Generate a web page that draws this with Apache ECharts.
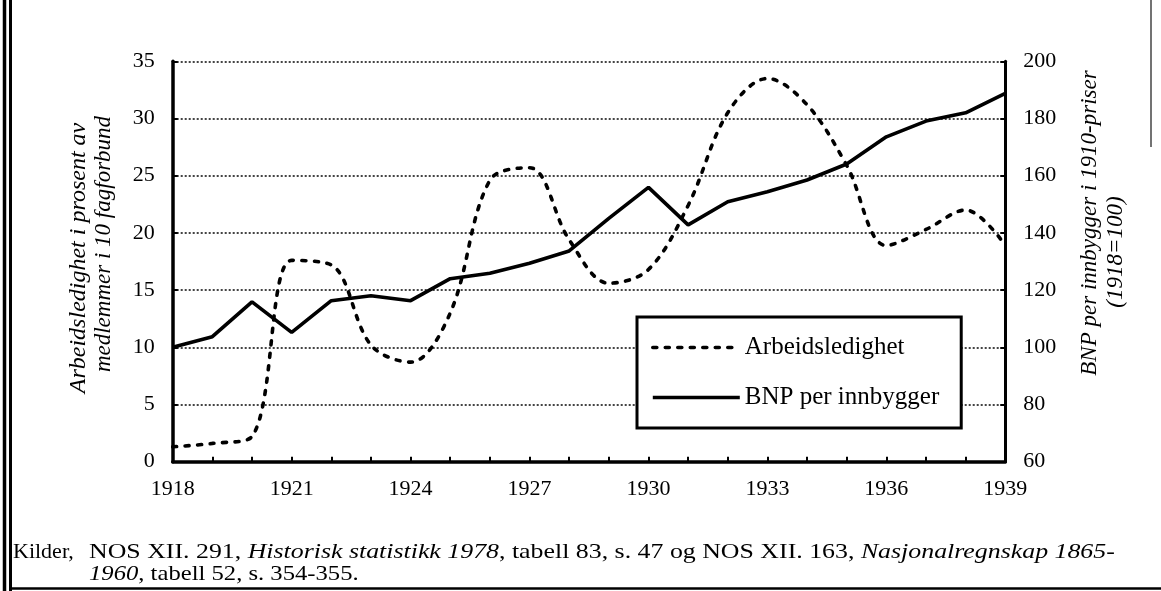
<!DOCTYPE html>
<html>
<head>
<meta charset="utf-8">
<script src="https://cdn.jsdelivr.net/npm/echarts@6/dist/echarts.min.js"></script>
<style>
html,body{margin:0;padding:0;background:#fff;}
#c{width:1161px;height:591px;}
</style>
</head>
<body>
<div id="c"></div>
<script>
// ---- data ----
var years = ['1918','1919','1920','1921','1922','1923','1924','1925','1926','1927','1928','1929','1930','1931','1932','1933','1934','1935','1936','1937','1938','1939'];
var arbeidsledighet = [1.3, 1.6, 2.2, 17.6, 17.2, 10.2, 8.7, 13.0, 24.6, 25.7, 19.4, 15.6, 16.8, 22.4, 30.5, 33.5, 31.2, 25.9, 18.9, 20.3, 22.0, 18.9];
var bnp = [100, 103.7, 115.9, 105.2, 116.3, 118.0, 116.3, 124.0, 125.9, 129.4, 133.7, 145.1, 155.9, 142.8, 150.9, 154.4, 158.5, 164.1, 173.6, 179.1, 182.0, 188.8];
var leftTicks = [0, 35, 5];    // min, max, interval
var rightTicks = [60, 200, 20];
var seriesNames = ['Arbeidsledighet', 'BNP per innbygger'];
var leftName = ['Arbeidsledighet i prosent av', 'medlemmer i 10 fagforbund'];
var rightName = ['BNP per innbygger i 1910-priser', '(1918=100)'];

var SERIF = '"Liberation Serif","Times New Roman",serif';
var chart = echarts.init(document.getElementById('c'), null, {renderer: 'canvas'});

var option = {
  backgroundColor: '#fff',
  animation: false,
  grid: {left: 172.7, right: 155.7, top: 61.3, bottom: 129.3, containLabel: false},
  legend: {
    data: seriesNames,
    orient: 'vertical',
    left: 637, top: 317,
    padding: [18, 22, 18, 14],
    itemGap: 25,
    itemWidth: 87, itemHeight: 14,
    borderColor: '#000', borderWidth: 3,
    backgroundColor: '#fff',
    itemStyle: {opacity: 0},
    lineStyle: {width: 3.6},
    textStyle: {fontFamily: SERIF, fontSize: 25, color: '#000'}
  },
  xAxis: {
    type: 'category', data: years, boundaryGap: false,
    axisLine: {lineStyle: {color: '#000', width: 3.5}},
    axisTick: {show: true, inside: true, length: 5, interval: 0, lineStyle: {color: '#000', width: 2}},
    axisLabel: {interval: 2, margin: 17, fontFamily: SERIF, fontSize: 22, color: '#000'},
    splitLine: {show: false}
  },
  yAxis: [{
    type: 'value', min: leftTicks[0], max: leftTicks[1], interval: leftTicks[2], position: 'left',
    axisLine: {show: true, lineStyle: {color: '#000', width: 3.5}},
    axisTick: {show: true, inside: true, length: 5, lineStyle: {color: '#000', width: 2}},
    axisLabel: {margin: 18, fontFamily: SERIF, fontSize: 22, color: '#000'},
    splitLine: {show: true, lineStyle: {color: '#444', width: 2, type: [2, 2]}}
  }, {
    type: 'value', min: rightTicks[0], max: rightTicks[1], interval: rightTicks[2], position: 'right',
    axisLine: {show: true, lineStyle: {color: '#000', width: 3}},
    axisTick: {show: true, inside: true, length: 5, lineStyle: {color: '#000', width: 2}},
    axisLabel: {margin: 18, fontFamily: SERIF, fontSize: 22, color: '#000'},
    splitLine: {show: false}
  }],
  series: [{
    name: seriesNames[0], type: 'line', yAxisIndex: 0, data: arbeidsledighet,
    symbol: 'none', smooth: 0.35,
    lineStyle: {color: '#000', width: 3.6, type: [4, 8.5], cap: 'round'},
    itemStyle: {color: '#000'}
  }, {
    name: seriesNames[1], type: 'line', yAxisIndex: 1, data: bnp,
    symbol: 'none', smooth: false,
    lineStyle: {color: '#000', width: 3.6, type: 'solid'},
    itemStyle: {color: '#000'}
  }],
  graphic: [
    // axis names
    {type: 'text', x: 79, y: 258, rotation: Math.PI / 2,
     style: {text: leftName[0], fontFamily: SERIF, fontStyle: 'italic', fontSize: 24, fill: '#000', align: 'center', verticalAlign: 'middle'}},
    {type: 'text', x: 104, y: 244, rotation: Math.PI / 2,
     style: {text: leftName[1], fontFamily: SERIF, fontStyle: 'italic', fontSize: 23, fill: '#000', align: 'center', verticalAlign: 'middle'}},
    {type: 'text', x: 1090, y: 223, rotation: Math.PI / 2,
     style: {text: rightName[0], fontFamily: SERIF, fontStyle: 'italic', fontSize: 23, fill: '#000', align: 'center', verticalAlign: 'middle'}},
    {type: 'text', x: 1116, y: 252, rotation: Math.PI / 2,
     style: {text: rightName[1], fontFamily: SERIF, fontStyle: 'italic', fontSize: 23, fill: '#000', align: 'center', verticalAlign: 'middle'}},
    // footer
    {type: 'text', x: 13, y: 552,
     style: {text: 'Kilder,', fontFamily: SERIF, fontSize: 22, fill: '#000', verticalAlign: 'middle'}},
    {type: 'text', x: 89, y: 552, scaleX: 1.175,
     style: {text: 'NOS XII. 291, {i|Historisk statistikk 1978}, tabell 83, s. 47 og NOS XII. 163, {i|Nasjonalregnskap 1865-}',
       fontFamily: SERIF, fontSize: 22, fill: '#000', verticalAlign: 'middle',
       rich: {i: {fontFamily: SERIF, fontStyle: 'italic', fontSize: 22, fill: '#000'}}}},
    {type: 'text', x: 89, y: 574, scaleX: 1.12,
     style: {text: '{i|1960}, tabell 52, s. 354-355.',
       fontFamily: SERIF, fontSize: 22, fill: '#000', verticalAlign: 'middle',
       rich: {i: {fontFamily: SERIF, fontStyle: 'italic', fontSize: 22, fill: '#000'}}}},
    // page frame
    {type: 'line', shape: {x1: 4.5, y1: 0, x2: 4.5, y2: 591}, style: {stroke: '#000', lineWidth: 3.5}},
    {type: 'line', shape: {x1: 10.5, y1: 0, x2: 10.5, y2: 591}, style: {stroke: '#000', lineWidth: 3}},
    {type: 'line', shape: {x1: 10, y1: 588.5, x2: 1161, y2: 588.5}, style: {stroke: '#000', lineWidth: 2.5}},
    {type: 'line', shape: {x1: 1151, y1: 0, x2: 1151, y2: 147}, style: {stroke: '#444', lineWidth: 1.5}}
  ]
};
chart.setOption(option);
</script>
</body>
</html>
